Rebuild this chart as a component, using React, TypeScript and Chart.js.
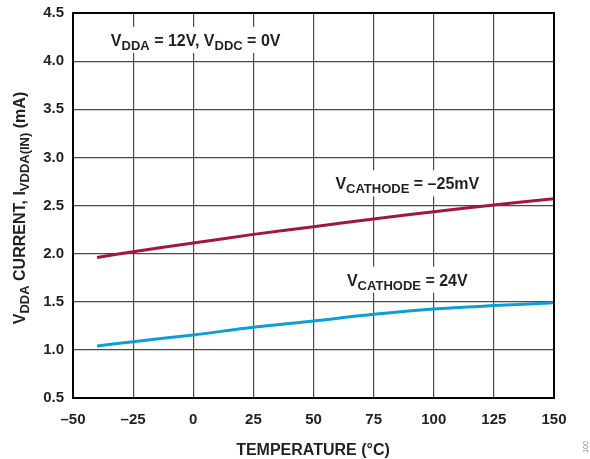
import React, { useEffect, useRef } from "react";
import { Chart, registerables } from "chart.js";

Chart.register(...registerables);

const temps = [-40, -25, 0, 25, 50, 75, 100, 125, 150];
const cathodeNeg25mV = [1.96, 2.02, 2.11, 2.2, 2.28, 2.36, 2.435, 2.505, 2.57];
const cathode24V = [1.04, 1.085, 1.155, 1.235, 1.3, 1.37, 1.425, 1.46, 1.49];
const xTicks = [-50, -25, 0, 25, 50, 75, 100, 125, 150];
const yTicks = [0.5, 1.0, 1.5, 2.0, 2.5, 3.0, 3.5, 4.0, 4.5];

type Seg = { t: string; sub?: boolean };
const annotations: { x: number; y: number; segs: Seg[] }[] = [
  { x: 1, y: 4.21, segs: [{ t: "V" }, { t: "DDA", sub: true }, { t: " = 12V, V" }, { t: "DDC", sub: true }, { t: " = 0V" }] },
  { x: 89, y: 2.72, segs: [{ t: "V" }, { t: "CATHODE", sub: true }, { t: " = \u201325mV" }] },
  { x: 89, y: 1.72, segs: [{ t: "V" }, { t: "CATHODE", sub: true }, { t: " = 24V" }] },
];
const yTitle: Seg[] = [
  { t: "V" }, { t: "DDA", sub: true }, { t: " CURRENT, I" }, { t: "VDDA(IN)", sub: true }, { t: " (mA)" },
];

const FONT = "Liberation Sans, Arial, sans-serif";
const MAIN = 16;
const SUB = 13;

function segWidth(ctx: CanvasRenderingContext2D, segs: Seg[]) {
  let w = 0;
  for (const s of segs) {
    ctx.font = `bold ${s.sub ? SUB : MAIN}px ${FONT}`;
    w += ctx.measureText(s.t).width;
  }
  return w;
}
function drawSegs(ctx: CanvasRenderingContext2D, segs: Seg[], x: number, y: number) {
  let cx = x;
  ctx.textAlign = "left";
  ctx.textBaseline = "alphabetic";
  for (const s of segs) {
    ctx.font = `bold ${s.sub ? SUB : MAIN}px ${FONT}`;
    ctx.fillText(s.t, cx, s.sub ? y + 4 : y);
    cx += ctx.measureText(s.t).width;
  }
}

const textPlugin = {
  id: "texts",
  beforeDatasetsDraw(chart: any) {
    const ctx = chart.ctx as CanvasRenderingContext2D;
    const xs = chart.scales.x;
    const ys = chart.scales.y;
    ctx.save();
    for (const a of annotations) {
      const w = segWidth(ctx, a.segs);
      const px = xs.getPixelForValue(a.x);
      const py = ys.getPixelForValue(a.y);
      ctx.fillStyle = "#ffffff";
      ctx.fillRect(px - w / 2 - 5, py - 14, w + 10, 26);
      ctx.fillStyle = "#231f20";
      drawSegs(ctx, a.segs, px - w / 2, py + 5);
    }
    ctx.restore();
  },
  afterDraw(chart: any) {
    const ctx = chart.ctx as CanvasRenderingContext2D;
    const ca = chart.chartArea;
    ctx.save();
    ctx.strokeStyle = "#000000";
    ctx.lineWidth = 2;
    ctx.strokeRect(ca.left, ca.top, ca.right - ca.left, ca.bottom - ca.top);
    // x title
    ctx.fillStyle = "#231f20";
    ctx.font = `bold ${MAIN}px ${FONT}`;
    ctx.textAlign = "center";
    ctx.textBaseline = "alphabetic";
    ctx.fillText("TEMPERATURE (\u00B0C)", 313, 455);
    // y title
    ctx.save();
    ctx.translate(25, 208);
    ctx.rotate(-Math.PI / 2);
    const w = segWidth(ctx, yTitle);
    drawSegs(ctx, yTitle, -w / 2, 0);
    ctx.restore();
    // figure id
    ctx.save();
    ctx.translate(586, 447);
    ctx.rotate(-Math.PI / 2);
    ctx.font = `7px ${FONT}`;
    ctx.fillStyle = "#888888";
    ctx.textAlign = "center";
    ctx.textBaseline = "middle";
    ctx.fillText("100", 0, 0);
    ctx.restore();
    ctx.restore();
  },
};

export default function App() {
  const ref = useRef<HTMLCanvasElement>(null);
  useEffect(() => {
    if (!ref.current) return;
    const chart = new Chart(ref.current, {
      type: "line",
      data: {
        datasets: [
          {
            label: "VCATHODE = -25mV",
            data: temps.map((t, i) => ({ x: t, y: cathodeNeg25mV[i] })),
            borderColor: "#a3173f",
            borderWidth: 3,
            pointRadius: 0,
            tension: 0.3,
          },
          {
            label: "VCATHODE = 24V",
            data: temps.map((t, i) => ({ x: t, y: cathode24V[i] })),
            borderColor: "#0d9ed8",
            borderWidth: 3,
            pointRadius: 0,
            tension: 0.3,
          },
        ],
      },
      options: {
        animation: false,
        responsive: false,
        maintainAspectRatio: false,
        layout: { padding: { left: 0, right: 36, top: 13, bottom: 0 } },
        plugins: { legend: { display: false }, tooltip: { enabled: false } },
        scales: {
          x: {
            type: "linear",
            min: -50,
            max: 150,
            afterBuildTicks: (s: any) => { s.ticks = xTicks.map((v) => ({ value: v })); },
            afterFit: (s: any) => { s.height = 61; s.paddingLeft = 0; s.paddingRight = 0; },
            grid: { color: "#4a4a4a", lineWidth: 1.2, drawTicks: false },
            border: { color: "#000000", width: 2 },
            ticks: {
              padding: 13,
              color: "#231f20",
              font: { family: FONT, size: 15, weight: "bold" },
              callback: (v: any) => (Number(v) < 0 ? "\u2013" + Math.abs(Number(v)) : String(v)),
            },
          },
          y: {
            type: "linear",
            min: 0.5,
            max: 4.5,
            afterBuildTicks: (s: any) => { s.ticks = yTicks.map((v) => ({ value: v })); },
            afterFit: (s: any) => { s.width = 73; s.paddingTop = 0; s.paddingBottom = 0; },
            grid: { color: "#4a4a4a", lineWidth: 1.2, drawTicks: false },
            border: { color: "#000000", width: 2 },
            ticks: {
              padding: 9,
              color: "#231f20",
              font: { family: FONT, size: 15, weight: "bold" },
              callback: (v: any) => Number(v).toFixed(1),
            },
          },
        },
      },
      plugins: [textPlugin],
    });
    return () => chart.destroy();
  }, []);
  return (
    <div style={{ position: "fixed", left: 0, top: 0, width: 590, height: 459, background: "#fff" }}>
      <canvas ref={ref} width={590} height={459} style={{ width: 590, height: 459 }} />
    </div>
  );
}
